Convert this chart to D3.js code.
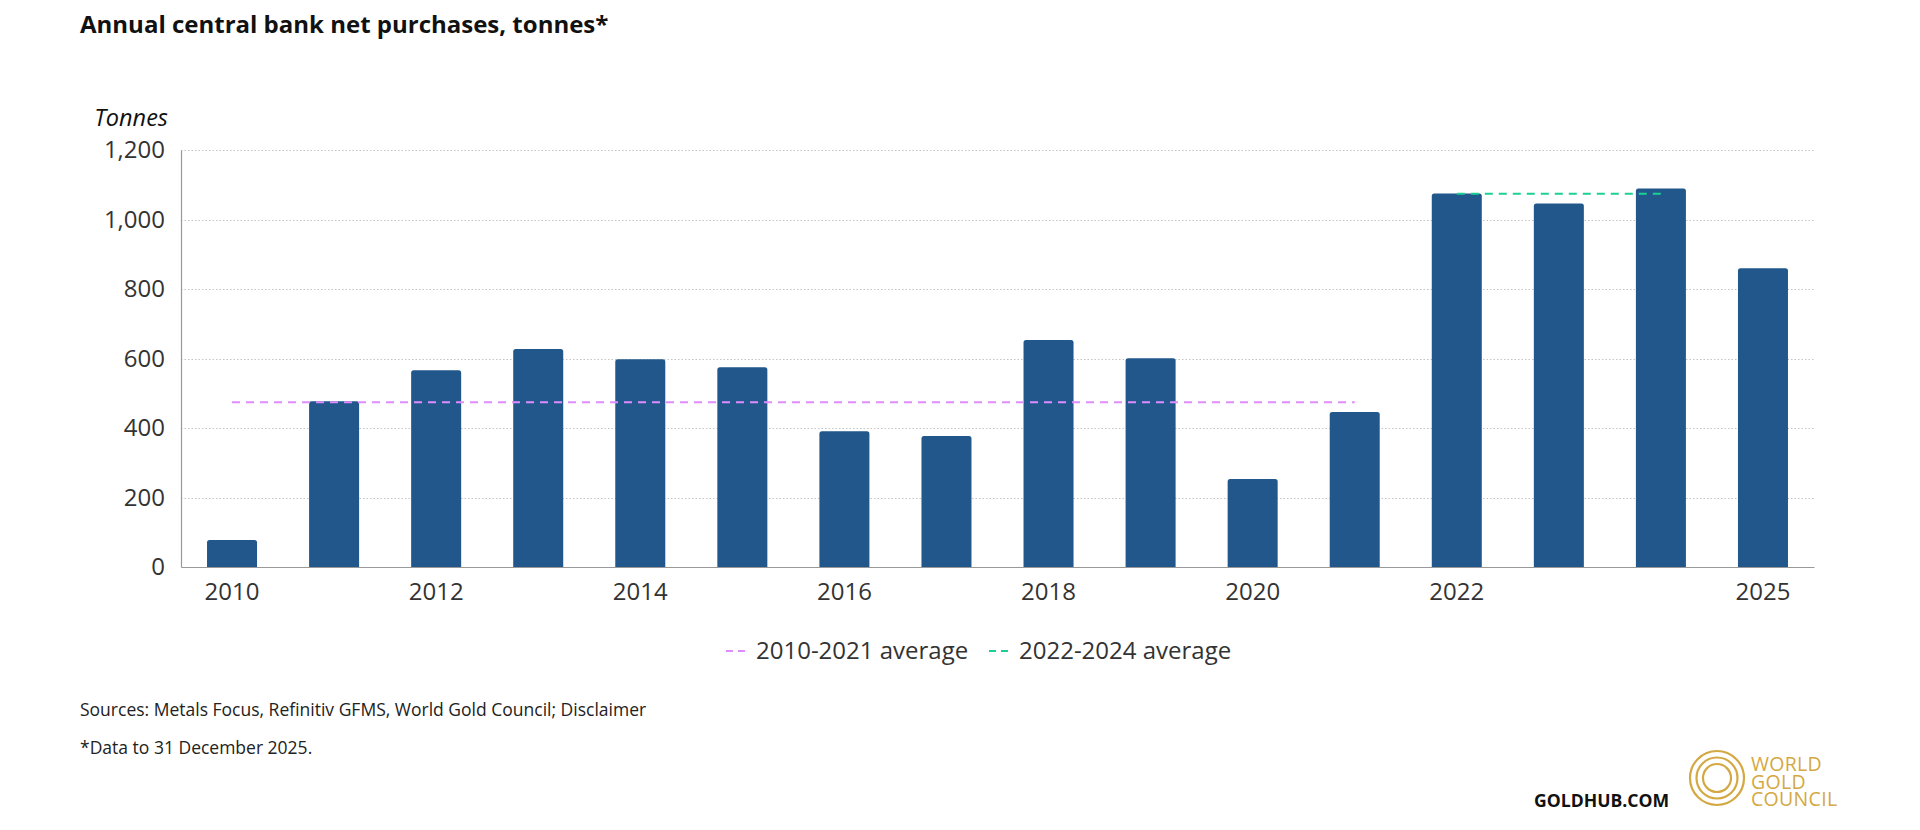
<!DOCTYPE html>
<html>
<head>
<meta charset="utf-8">
<script src="https://cdn.jsdelivr.net/npm/d3@7"></script>
<style>
  body { margin: 0; background: #fff; font-family: "Open Sans", "Noto Sans", sans-serif; }
  .grid line { stroke: #c4c4c4; stroke-dasharray: 1.5,2; }
  .axis text { font-family: "Open Sans", sans-serif; font-size: 24px; fill: #333; }
</style>
</head>
<body>
<script>
// data
const years = ["2010","2011","2012","2013","2014","2015","2016","2017","2018","2019","2020","2021","2022","2023","2024","2025"];
const purchases = [78, 477, 566, 627, 598, 575, 391, 377, 653, 601, 253, 446, 1075, 1046, 1089, 860];
const yTicks = [0, 200, 400, 600, 800, 1000, 1200];
const xTickLabels = ["2010","2012","2014","2016","2018","2020","2022","2025"];
const avgNames = ["2010-2021 average", "2022-2024 average"];
const avgValues = [474, 1074];
const avgFrom = ["2010", "2022"];
const avgTo = ["2021", "2024"];

const w = 1920, h = 830;
const plotLeft = 181, plotRight = 1814, plotTop = 150, plotBottom = 567;
const barColor = "#21578a";
const avgColors = ["#e08cff", "#1ccf95"];
const gold = "#d4a843";

const svg = d3.select("body")
  .append("svg")
  .attr("width", w)
  .attr("height", h);

const x = d3.scaleBand()
  .domain(years)
  .range([plotLeft, plotRight])
  .paddingInner(0.51)
  .paddingOuter(0.255);

const y = d3.scaleLinear()
  .domain([0, 1200])
  .range([plotBottom, plotTop]);

// title
svg.append("text")
  .attr("x", 80)
  .attr("y", 33)
  .style("font-size", "24px")
  .style("font-weight", "bold")
  .style("fill", "#111")
  .text("Annual central bank net purchases, tonnes*");

svg.append("text")
  .attr("x", 168)
  .attr("y", 126)
  .attr("text-anchor", "end")
  .style("font-size", "23.5px")
  .style("font-style", "italic")
  .style("fill", "#111")
  .text("Tonnes");

// gridlines
svg.append("g")
  .attr("class", "grid")
  .selectAll("line")
  .data(yTicks.filter(d => d > 0))
  .join("line")
  .attr("x1", plotLeft)
  .attr("x2", plotRight)
  .attr("y1", d => Math.round(y(d)) + 0.5)
  .attr("y2", d => Math.round(y(d)) + 0.5);

// y axis
const yAxis = svg.append("g")
  .attr("class", "axis")
  .attr("transform", `translate(${plotLeft},0)`)
  .call(d3.axisLeft(y).tickValues(yTicks).tickSize(0).tickPadding(16).tickFormat(d3.format(",")));
yAxis.select(".domain").attr("stroke", "#999").attr("stroke-width", 1.2);

// bars, rounded top corners
const barPath = (d, i) => {
  const x0 = x(years[i]), bw = x.bandwidth(), y0 = y(d), r = 2.5;
  return `M${x0},${plotBottom} V${y0 + r} Q${x0},${y0} ${x0 + r},${y0} H${x0 + bw - r} Q${x0 + bw},${y0} ${x0 + bw},${y0 + r} V${plotBottom} Z`;
};

svg.append("g")
  .selectAll("path")
  .data(purchases)
  .join("path")
  .attr("d", barPath)
  .attr("fill", barColor);

// x axis
const xAxis = svg.append("g")
  .attr("class", "axis")
  .attr("transform", `translate(0,${plotBottom})`)
  .call(d3.axisBottom(x).tickValues(xTickLabels).tickSize(0).tickPadding(16));
xAxis.select(".domain").attr("stroke", "#999").attr("stroke-width", 1.2);

// average lines
avgValues.forEach((v, i) => {
  svg.append("line")
    .attr("x1", x(avgFrom[i]) + x.bandwidth() / 2)
    .attr("x2", x(avgTo[i]) + x.bandwidth() / 2)
    .attr("y1", y(v))
    .attr("y2", y(v))
    .attr("stroke", avgColors[i])
    .attr("stroke-width", 2)
    .attr("stroke-dasharray", "8,6");
});

// legend
const legendX = [726, 989];
const legend = svg.append("g");
avgNames.forEach((name, i) => {
  legend.append("line")
    .attr("x1", legendX[i])
    .attr("x2", legendX[i] + 22)
    .attr("y1", 651)
    .attr("y2", 651)
    .attr("stroke", avgColors[i])
    .attr("stroke-width", 2)
    .attr("stroke-dasharray", "7,5");
  legend.append("text")
    .attr("x", legendX[i] + 30)
    .attr("y", 659)
    .style("font-size", "24px")
    .style("fill", "#333")
    .text(name);
});

// footer
svg.append("text")
  .attr("x", 80)
  .attr("y", 716)
  .style("font-size", "17.5px")
  .style("fill", "#222")
  .text("Sources: Metals Focus, Refinitiv GFMS, World Gold Council; Disclaimer");

svg.append("text")
  .attr("x", 80)
  .attr("y", 754)
  .style("font-size", "17.5px")
  .style("fill", "#222")
  .text("*Data to 31 December 2025.");

svg.append("text")
  .attr("x", 1534)
  .attr("y", 807)
  .style("font-size", "17.6px")
  .style("font-weight", "bold")
  .style("fill", "#111")
  .text("GOLDHUB.COM");

// logo
const logo = svg.append("g").attr("transform", "translate(1717,778)");
[27, 20.5, 14].forEach(r => {
  logo.append("circle")
    .attr("r", r)
    .attr("fill", "none")
    .attr("stroke", gold)
    .attr("stroke-width", 2.2);
});
["WORLD", "GOLD", "COUNCIL"].forEach((t, i) => {
  svg.append("text")
    .attr("x", 1751)
    .attr("y", 771 + i * 17.5)
    .style("font-size", "19.5px")
    .style("letter-spacing", "0.3px")
    .style("fill", gold)
    .text(t);
});
</script>
</body>
</html>
